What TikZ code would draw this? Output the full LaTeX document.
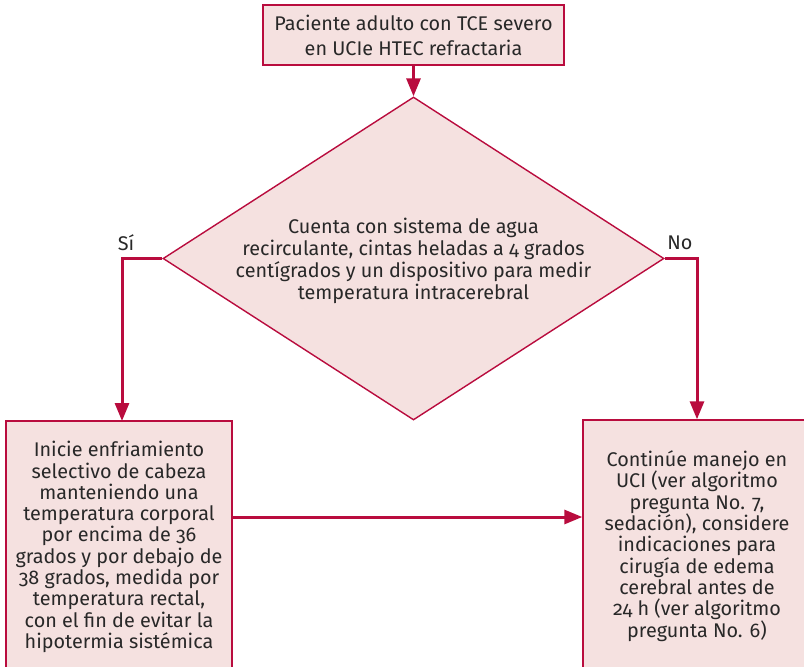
\documentclass[tikz,border=0pt]{standalone}
\usepackage{fontspec}
\setmainfont[Numbers=OldStyle]{Fira Sans}
\usetikzlibrary{arrows.meta,shapes.geometric}
\definecolor{crim}{RGB}{185,12,62}
\definecolor{pinkfill}{RGB}{245,225,224}
\definecolor{txt}{RGB}{40,40,40}
\tikzset{
  box/.style={draw=crim, line width=1.4pt, fill=pinkfill, text=txt, align=center, inner sep=0pt, font=\fontsize{19.8}{21.3}\selectfont},
  conn/.style={draw=crim, line width=3pt, -{Triangle[length=18pt,width=14pt]}},
  lab/.style={text=txt, font=\fontsize{19.8}{22}\selectfont, inner sep=0pt}
}
\begin{document}
\begin{tikzpicture}[x=1pt,y=-1pt]
\useasboundingbox (0,0) rectangle (804,667);
\node[box, minimum width=301pt, minimum height=60pt, font=\fontsize{19.8}{25}\selectfont] (top) at (413.5,35) {Paciente adulto con TCE severo\\en UCIe HTEC refractaria};
\node[box, diamond, minimum width=501pt, minimum height=323pt] (dec) at (413.5,258.5) {};
\node[text=txt, align=center, font=\fontsize{19.8}{22}\selectfont] (dectext) at (413.5,261) {Cuenta con sistema de agua\\recirculante, cintas heladas a 4 grados\\centígrados y un dispositivo para medir\\temperatura intracerebral};
\node[box, minimum width=226pt, minimum height=252pt] (left) at (119,547) {Inicie enfriamiento\\selectivo de cabeza\\manteniendo una\\temperatura corporal\\por encima de 36\\grados y por debajo de\\38 grados, medida por\\temperatura rectal,\\con el fin de evitar la\\hipotermia sistémica};
\node[box, minimum width=228pt, minimum height=252pt] (right) at (697,546) {Continúe manejo en\\UCI (ver algoritmo\\pregunta No. 7,\\sedación), considere\\indicaciones para\\cirugía de edema\\cerebral antes de\\24 h (ver algoritmo\\pregunta No. 6)};
\node[lab] (si) at (126,243) {Sí};
\node[lab] (no) at (680,243) {No};
\coordinate (lh) at (122,421);
\coordinate (mid) at (0,517);
\draw[conn] (top.south) -- (dec.north);
\draw[conn] (dec.west) -| (lh);
\draw[conn] (dec.east) -| (right.north);
\draw[conn] (left.east |- mid) -- (right.west |- mid);
\end{tikzpicture}
\end{document}
